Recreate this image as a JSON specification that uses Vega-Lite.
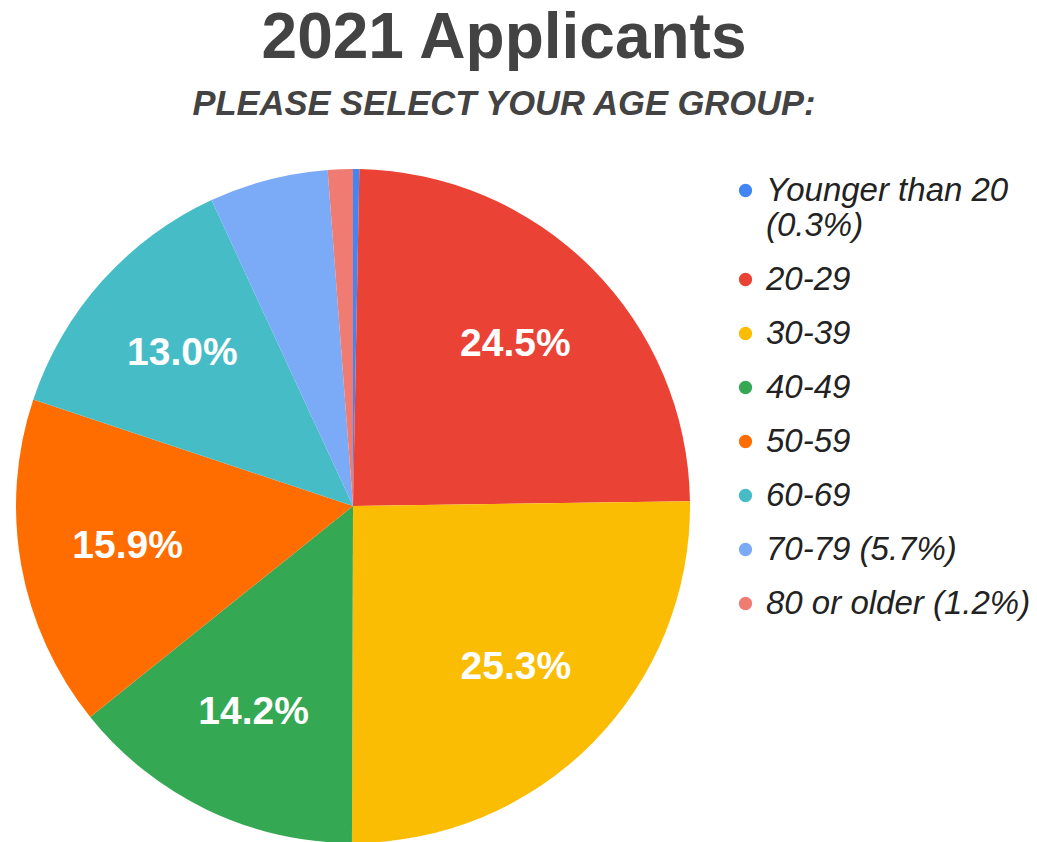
{
  "$schema": "https://vega.github.io/schema/vega-lite/v6.json",
  "autosize": "none",
  "width": 674,
  "height": 672,
  "padding": {"left": 16, "top": 170, "right": 347, "bottom": 0},
  "background": "white",
  "title": {
    "text": "2021 Applicants",
    "subtitle": "PLEASE SELECT YOUR AGE GROUP:",
    "anchor": "middle",
    "frame": "group",
    "dx": 151,
    "offset": 48,
    "font": "Liberation Sans",
    "fontSize": 64,
    "fontWeight": "bold",
    "color": "#434343",
    "subtitleFont": "Liberation Sans",
    "subtitleFontSize": 34.5,
    "subtitleFontWeight": "bold",
    "subtitleFontStyle": "italic",
    "subtitleColor": "#434343",
    "subtitlePadding": 17
  },
  "data": {
    "values": [
      {"idx": 1, "group": "Younger than 20", "share": 0.003},
      {"idx": 2, "group": "20-29", "share": 0.245},
      {"idx": 3, "group": "30-39", "share": 0.253},
      {"idx": 4, "group": "40-49", "share": 0.142},
      {"idx": 5, "group": "50-59", "share": 0.159},
      {"idx": 6, "group": "60-69", "share": 0.130},
      {"idx": 7, "group": "70-79", "share": 0.057},
      {"idx": 8, "group": "80 or older", "share": 0.012}
    ]
  },
  "encoding": {
    "theta": {"field": "share", "type": "quantitative", "stack": true},
    "order": {"field": "idx", "type": "quantitative"}
  },
  "layer": [
    {
      "mark": {"type": "arc", "stroke": null, "radius": 337},
      "encoding": {
        "color": {
          "field": "group",
          "type": "nominal",
          "scale": {
            "domain": ["Younger than 20", "20-29", "30-39", "40-49", "50-59", "60-69", "70-79", "80 or older"],
            "range": ["#4285F4", "#EA4335", "#FBBC04", "#34A853", "#FF6D01", "#46BDC6", "#7BAAF7", "#F07B72"]
          },
          "legend": {
            "title": null,
            "orient": "none",
            "legendX": 713,
            "legendY": 4,
            "padding": 0,
            "symbolType": "circle",
            "symbolSize": 177,
            "symbolStrokeWidth": 0,
            "symbolOpacity": 1,
            "labelFont": "Liberation Sans",
            "labelFontSize": 33,
            "labelFontStyle": "italic",
            "labelColor": "#222222",
            "labelOffset": 4,
            "labelLimit": 320,
            "rowPadding": 20,
            "labelExpr": "datum.label == 'Younger than 20' ? ['Younger than 20', '(0.3%)'] : datum.label == '70-79' ? '70-79 (5.7%)' : datum.label == '80 or older' ? '80 or older (1.2%)' : datum.label"
          }
        }
      }
    },
    {
      "mark": {"type": "text", "radius": 229, "font": "Liberation Sans", "fontSize": 39, "fontWeight": "bold", "fill": "white", "align": "center", "baseline": "middle"},
      "encoding": {
        "text": {"field": "share", "type": "quantitative", "format": ".1%"},
        "opacity": {"condition": {"test": "datum.share < 0.1", "value": 0}, "value": 1}
      }
    }
  ]
}
